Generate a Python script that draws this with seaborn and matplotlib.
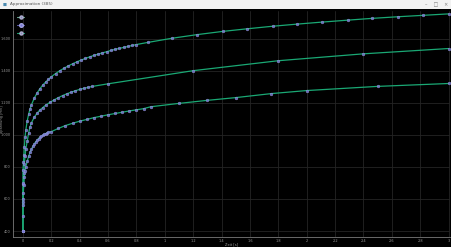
import numpy as np
import pandas as pd
import matplotlib
matplotlib.use("Agg")
import matplotlib.pyplot as plt
import seaborn as sns
from matplotlib.lines import Line2D
from matplotlib.patches import Rectangle

# ---- data ----
top_x = [0, 0, 0, 0, 0, 0.004, 0.007, 0.01, 0.015, 0.02, 0.03, 0.04, 0.05, 0.06, 0.08, 0.1,
         0.12, 0.14, 0.16, 0.18, 0.2, 0.23, 0.26, 0.29, 0.32, 0.35, 0.38, 0.41, 0.44, 0.47,
         0.5, 0.53, 0.56, 0.59, 0.62, 0.65, 0.68, 0.71, 0.74, 0.77, 0.8,
         0.88, 1.05, 1.23, 1.41, 1.58, 1.76, 1.93, 2.11, 2.29, 2.46, 2.64, 2.82, 3.0]
top_y = [400, 493, 580, 692, 779, 830, 875, 927, 986, 1028, 1086, 1128, 1161, 1187, 1229, 1261,
         1288, 1310, 1329, 1346, 1362, 1382, 1400, 1415, 1430, 1443, 1455, 1466, 1476, 1486,
         1495, 1503, 1511, 1518, 1526, 1533, 1539, 1545, 1551, 1557, 1563,
         1576, 1602, 1625, 1645, 1661, 1677, 1690, 1703, 1715, 1726, 1736, 1745, 1754]

mid_x = [0, 0, 0.003, 0.006, 0.01, 0.015, 0.02, 0.03, 0.04, 0.05, 0.06, 0.08, 0.1, 0.12, 0.14,
         0.16, 0.19, 0.22, 0.25, 0.28, 0.31, 0.34, 0.37, 0.4, 0.43, 0.46, 0.49,
         0.6, 1.2, 1.8, 2.4, 3.0]
mid_y = [400, 600, 700, 760, 820, 870, 910, 960, 1010, 1050, 1075, 1110, 1135, 1155, 1170,
         1185, 1202, 1218, 1232, 1245, 1256, 1266, 1275, 1283, 1290, 1296, 1302,
         1318, 1400, 1462, 1505, 1538]

bot_x = [0, 0, 0.003, 0.006, 0.01, 0.015, 0.02, 0.03, 0.04, 0.05, 0.06, 0.07, 0.08, 0.09, 0.1,
         0.11, 0.12, 0.13, 0.14, 0.15, 0.16, 0.17, 0.18, 0.2, 0.25, 0.3, 0.35, 0.4, 0.45,
         0.5, 0.55, 0.6, 0.65, 0.7, 0.75, 0.8, 0.85, 0.9,
         1.1, 1.3, 1.5, 1.75, 2.0, 2.5, 3.0]
bot_y = [400, 560, 640, 690, 740, 775, 800, 835, 865, 890, 910, 928, 943, 956, 967,
         977, 985, 992, 998, 1003, 1008, 1012, 1016, 1020, 1040, 1058, 1072, 1085, 1096,
         1107, 1116, 1125, 1133, 1141, 1149, 1156, 1163, 1175,
         1196, 1215, 1232, 1257, 1276, 1302, 1320]

x_ticks = [0, 0.2, 0.4, 0.6, 0.8, 1, 1.2, 1.4, 1.6, 1.8, 2, 2.2, 2.4, 2.6, 2.8, 3]
x_tick_labels = ["0", "0.2", "0.4", "0.6", "0.8", "1", "1.2", "1.4", "1.6", "1.8",
                 "2", "2.2", "2.4", "2.6", "2.8", "3"]
y_ticks = [400, 600, 800, 1000, 1200, 1400, 1600]
y_tick_labels = ["400", "600", "800", "1.000", "1.200", "1.400", "1.600"]

series = [("top", top_x, top_y), ("mid", mid_x, mid_y), ("bot", bot_x, bot_y)]

# ---- figure ----
sns.set_style("dark")
fig = plt.figure(figsize=(4.52, 2.47), dpi=100, facecolor="#000000")
ax = fig.add_axes([13 / 452, 10 / 247, (450 - 13) / 452, (237 - 11) / 247])
ax.set_facecolor("#000000")

line_col = "#1aa874"
dense_col = "#7474d4"
dense_edge = "#a4a4e0"

for name, xs, ys in series:
    df = pd.DataFrame({"x": xs, "y": ys})
    sns.lineplot(data=df, x="x", y="y", sort=False, estimator=None, ax=ax,
                 color=line_col, lw=0.9, zorder=2)
    sns.scatterplot(data=df, x="x", y="y", ax=ax, s=4, color=dense_col,
                    edgecolor=dense_edge, linewidth=0.3, zorder=3, alpha=0.85)

ax.set_xlim(-0.07, 3.01)
ax.set_ylim(363, 1772)
ax.set_xticks(x_ticks)
ax.set_xticklabels(x_tick_labels)
ax.set_yticks(y_ticks)
ax.set_yticklabels(y_tick_labels)
ax.grid(True, color="#242424", lw=0.6)
ax.tick_params(colors="#9a9a9a", labelsize=2.5, length=1.0, width=0.4, pad=0.6)
for side in ["left", "bottom"]:
    ax.spines[side].set_color("#7a7a7a")
    ax.spines[side].set_linewidth(0.6)
    ax.spines[side].set_visible(True)
for side in ["top", "right"]:
    ax.spines[side].set_visible(False)
ax.set_xlabel("Zeit [s]", color="#9a9a9a", fontsize=2.6)
ax.set_ylabel("Spannung [mV]", color="#9a9a9a", fontsize=2.5)
ax.xaxis.set_label_coords(0.5, -0.025)
ax.yaxis.set_label_coords(-0.021, 0.52)

handles = [
    Line2D([], [], color="#6aa890", lw=0.8, marker="o", ms=2.2, mfc="#8a8ab8", mec="#b0b0d0"),
    Line2D([], [], color="#5a5ab0", lw=0.8, marker="o", ms=2.6, mfc=dense_col, mec=dense_edge),
    Line2D([], [], color=line_col, lw=0.8, marker="o", ms=2.2, mfc="#8a8ab8", mec="#b0b0d0"),
]
leg = ax.legend(handles, [" ", " ", " "], loc="upper left", frameon=False,
                handlelength=1.5, fontsize=3.5, labelspacing=0.6,
                bbox_to_anchor=(0.0, 1.0), borderaxespad=0.4)

# window title bar
fig.patches.append(Rectangle((0, 1 - 9 / 247), 1, 9 / 247, transform=fig.transFigure,
                             facecolor="#f2f2f2", edgecolor="none", zorder=10))
fig.text(10 / 452, 1 - 4.5 / 247, "Approximation (385)", fontsize=3, color="#555555",
         va="center", ha="left", zorder=11)
fig.text(3 / 452, 1 - 4.5 / 247, "■", fontsize=3, color="#4a8ab0",
         va="center", ha="left", zorder=11)
fig.text(1 - 4 / 452, 1 - 4.5 / 247, "–    □    ×", fontsize=3.5, color="#777777",
         va="center", ha="right", zorder=11)

fig.savefig("out.png", dpi=100, facecolor="#000000")
